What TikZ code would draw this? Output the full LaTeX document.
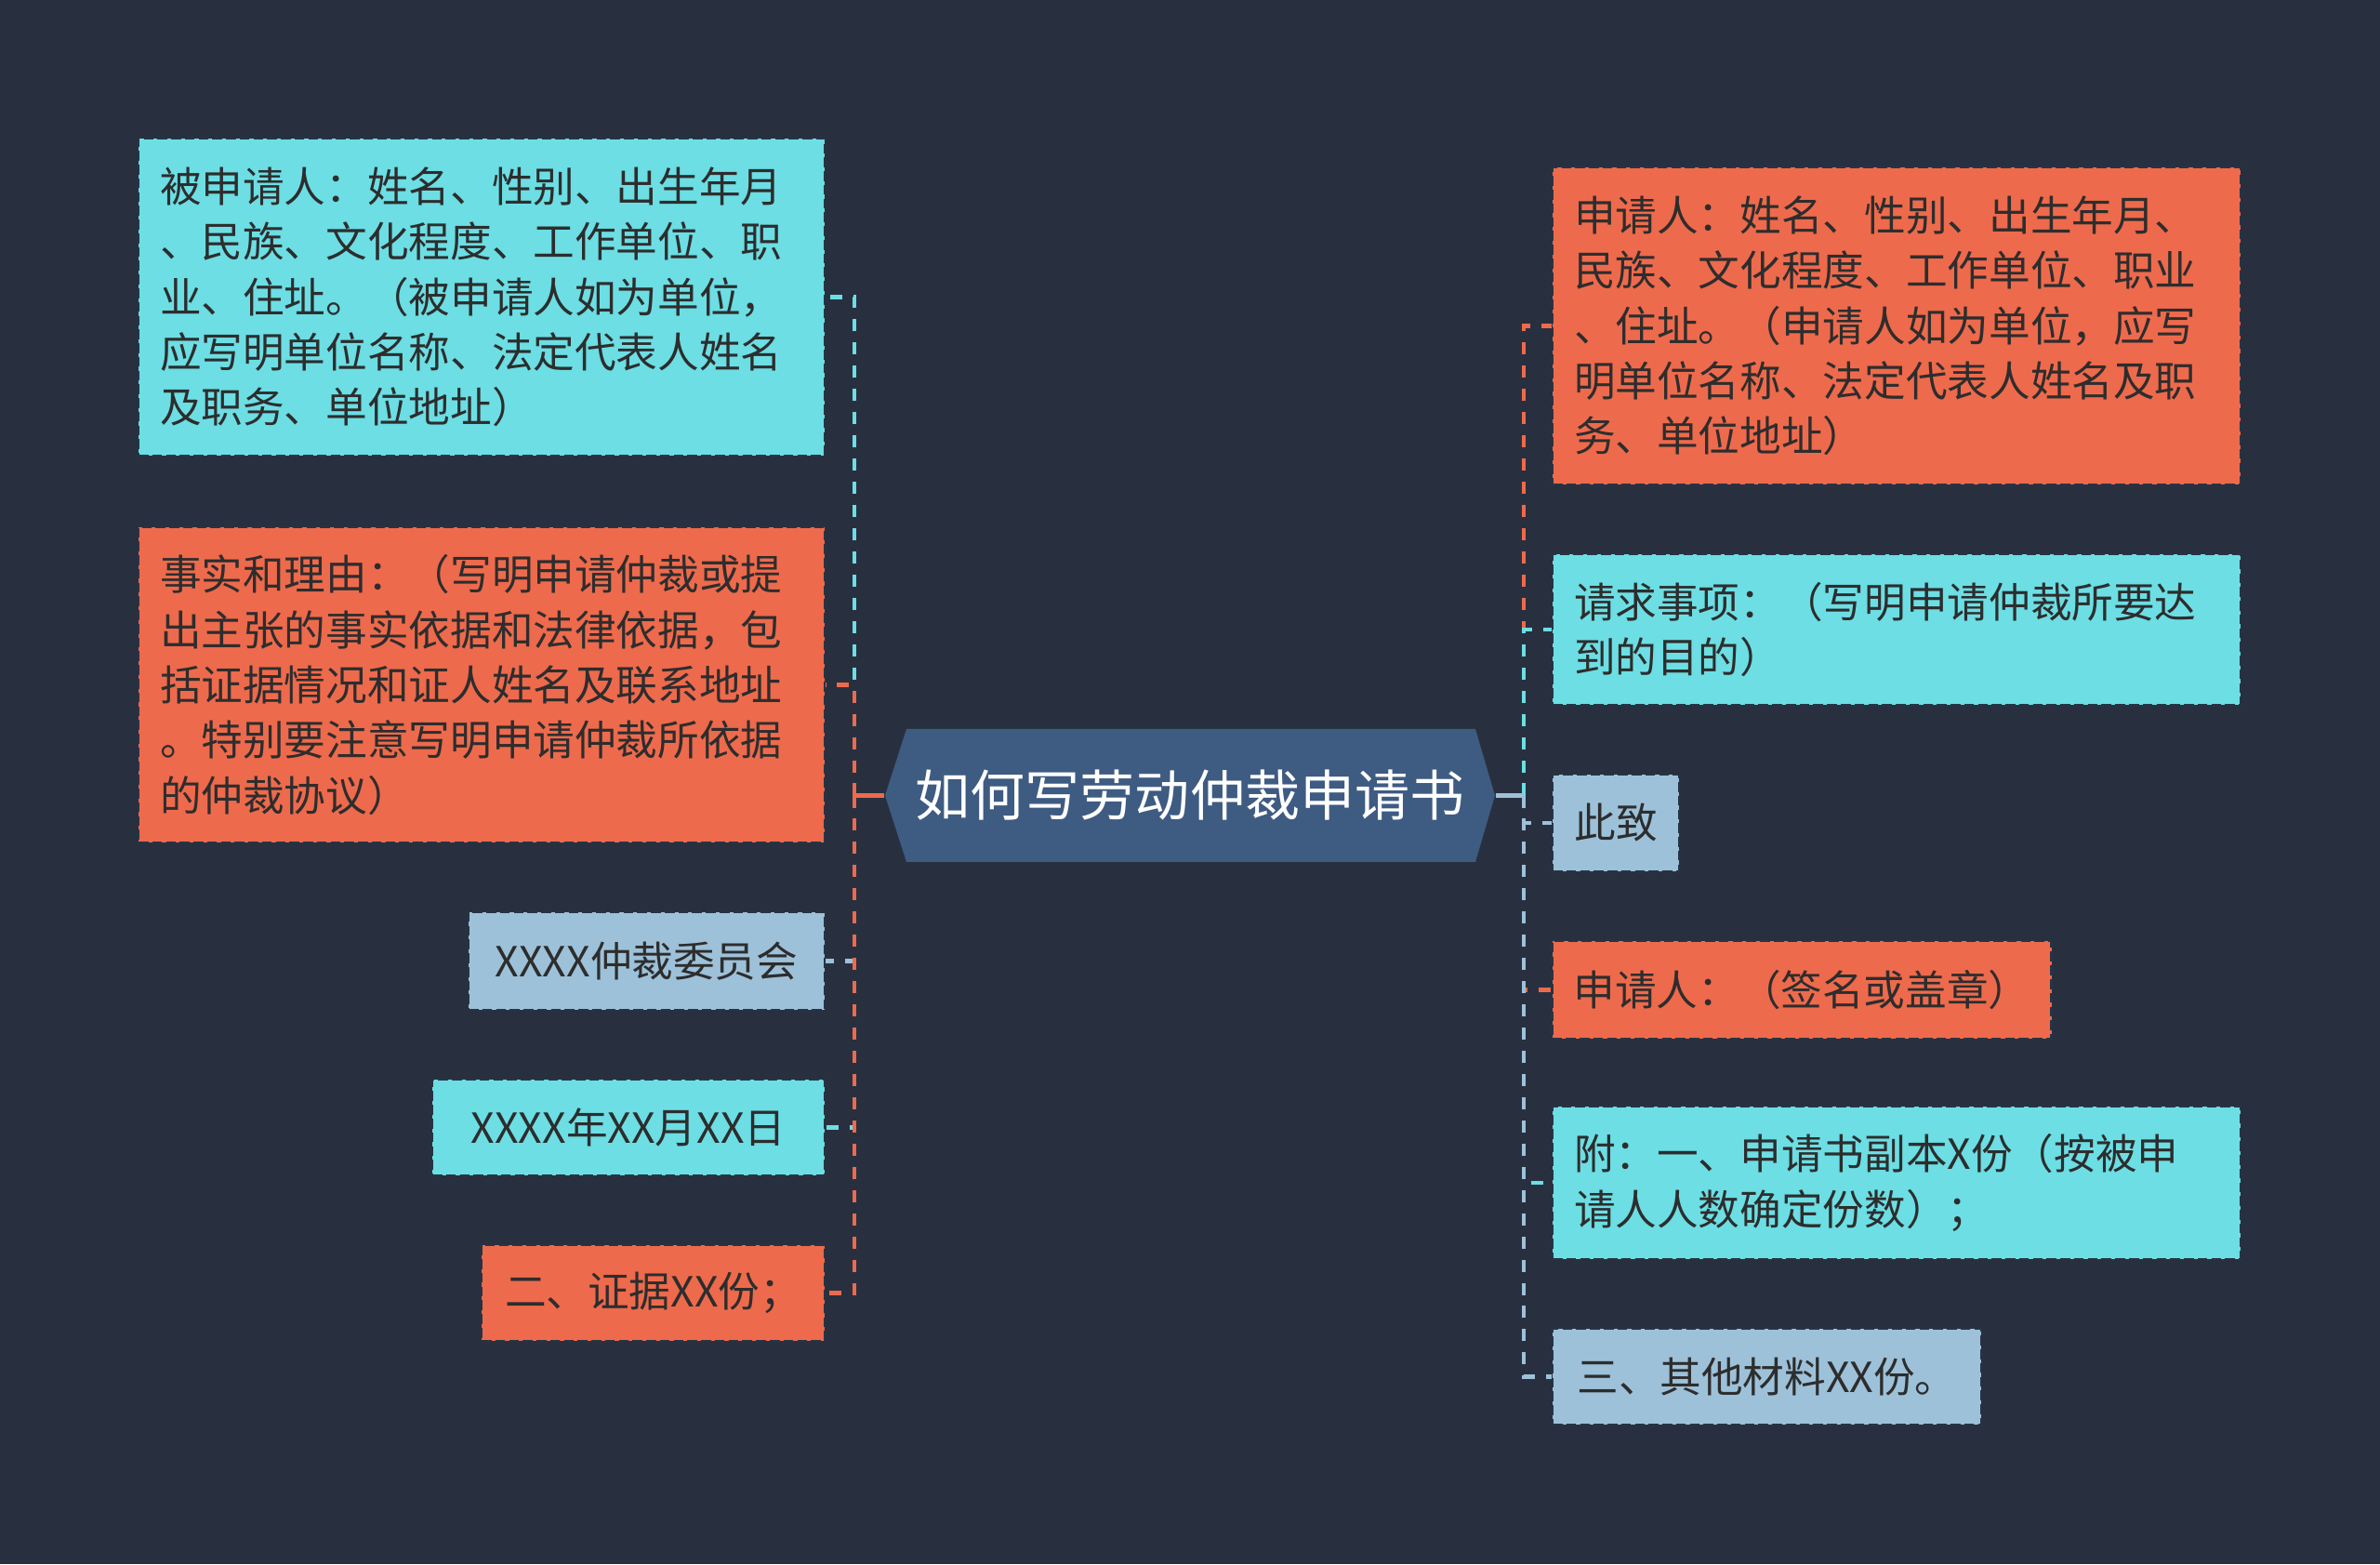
\documentclass[tikz,border=0pt]{standalone}
\usepackage{fontspec}
\setmainfont{Noto Sans CJK SC}
\usetikzlibrary{positioning}
\definecolor{bgnavy}{RGB}{40,48,63}
\definecolor{cyanbox}{RGB}{108,222,228}
\definecolor{orangebox}{RGB}{238,106,76}
\definecolor{greybox}{RGB}{157,193,217}
\definecolor{rootblue}{RGB}{62,91,130}
\definecolor{textdark}{RGB}{45,45,45}
\definecolor{boxedge}{RGB}{38,52,68}
\tikzset{
  box/.style={rectangle, draw=boxedge, line width=0.6pt, dash pattern=on 3pt off 1.2pt,
    text=textdark, font=\fontsize{12.7}{16.9}\selectfont, inner xsep=0.23cm, inner ysep=0cm},
  longbox/.style={box, align=left, text width=#1},
  shortbox/.style={box, align=center},
  link/.style={line width=1.2pt, dash pattern=on 3.7pt off 3.4pt},
  stub/.style={line width=1.2pt},
}
\begin{document}
\begin{tikzpicture}
  \useasboundingbox (0,0) rectangle (25.6,16.82);
  % Background
  \fill[bgnavy] (0,0) rectangle (25.6,16.82);
  % Root (hexagon)
  \fill[rootblue] (9.52,8.265) -- (9.75,8.98) -- (15.87,8.98) -- (16.08,8.265)
    -- (15.87,7.55) -- (9.75,7.55) -- cycle;
  \node[minimum width=6.56cm, minimum height=1.43cm, text=white,
    font=\fontsize{16.8}{20}\selectfont] (root) at (12.80,8.265) {如何写劳动仲裁申请书};
  % Left side
  \node[longbox=6.92cm, fill=cyanbox, minimum height=3.41cm] (resp) at (5.18,13.625)
    {被申请人：姓名、性别、出生年月\\、民族、文化程度、工作单位、职\\业、住址。（被申请人如为单位，\\应写明单位名称、法定代表人姓名\\及职务、单位地址）};
  \node[longbox=6.92cm, fill=orangebox, minimum height=3.39cm] (facts) at (5.18,9.455)
    {事实和理由：（写明申请仲裁或提\\出主张的事实依据和法律依据，包\\括证据情况和证人姓名及联系地址\\。特别要注意写明申请仲裁所依据\\的仲裁协议）};
  \node[shortbox, fill=greybox, minimum width=3.83cm, minimum height=1.05cm] (board) at (6.955,6.485)
    {XXXX仲裁委员会};
  \node[shortbox, fill=cyanbox, minimum width=4.22cm, minimum height=1.03cm] (date) at (6.76,4.695)
    {XXXX年XX月XX日};
  \node[shortbox, fill=orangebox, minimum width=3.69cm, minimum height=1.03cm] (proof) at (7.025,2.915)
    {二、证据XX份；};
  % Right side
  \node[longbox=6.94cm, fill=orangebox, minimum height=3.41cm] (appl) at (20.40,13.315)
    {申请人：姓名、性别、出生年月、\\民族、文化程度、工作单位、职业\\、住址。（申请人如为单位，应写\\明单位名称、法定代表人姓名及职\\务、单位地址）};
  \node[longbox=6.94cm, fill=cyanbox, minimum height=1.62cm] (claim) at (20.40,10.05)
    {请求事项：（写明申请仲裁所要达\\到的目的）};
  \node[shortbox, fill=greybox, minimum width=1.36cm, minimum height=1.04cm] (regard) at (17.38,7.97)
    {此致};
  \node[shortbox, fill=orangebox, minimum width=5.36cm, minimum height=1.05cm] (sign) at (19.38,6.175)
    {申请人：（签名或盖章）};
  \node[longbox=6.94cm, fill=cyanbox, minimum height=1.64cm] (annex) at (20.40,4.10)
    {附：一、申请书副本X份（按被申\\请人人数确定份数）；};
  \node[shortbox, fill=greybox, minimum width=4.61cm, minimum height=1.03cm] (other) at (19.005,2.015)
    {三、其他材料XX份。};
  % Hubs
  \coordinate (lhub) at (9.19,8.265);
  \coordinate (rhub) at (16.39,8.265);
  % Left connectors
  \draw[link, cyanbox] (lhub) |- (resp.east);
  \draw[link, orangebox] (lhub) |- (facts.east);
  \draw[link, greybox] (lhub) |- (board.east);
  \draw[link, cyanbox] (lhub) |- (date.east);
  \draw[link, orangebox] (lhub) |- (proof.east);
  \draw[stub, orangebox] (root.west) -- (lhub);
  % Right connectors
  \draw[link, orangebox] (rhub) |- (appl.west);
  \draw[link, cyanbox] (rhub) |- (claim.west);
  \draw[link, greybox] (rhub) |- (regard.west);
  \draw[link, orangebox] (rhub) |- (sign.west);
  \draw[link, cyanbox] (rhub) |- (annex.west);
  \draw[link, greybox] (rhub) |- (other.west);
  \draw[stub, greybox] (root.east) -- (rhub);
\end{tikzpicture}
\end{document}
